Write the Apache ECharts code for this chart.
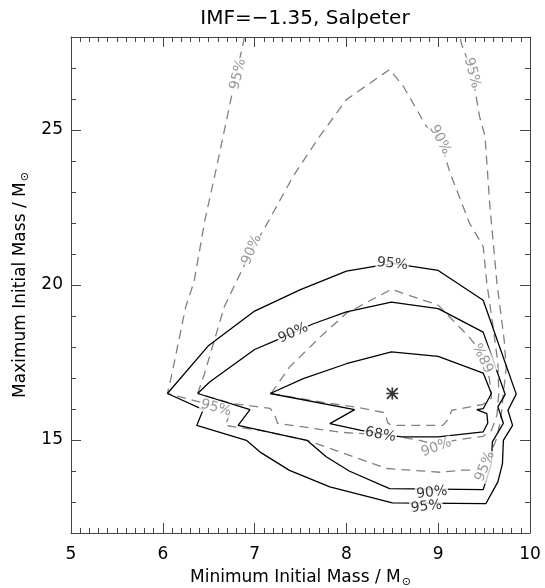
<!DOCTYPE html>
<html><head><meta charset="utf-8">
<script src="https://cdn.jsdelivr.net/npm/echarts@6/dist/echarts.min.js"></script>
<style>html,body{margin:0;padding:0;background:#fff}#c{width:545px;height:588px}</style>
</head><body><div id="c"></div>
<script>
// ---- data ----
const titleText = 'IMF=\u22121.35, Salpeter';
const xName = 'Minimum Initial Mass / M{s|\u2299}';
const yName = 'Maximum Initial Mass / M{s|\u2299}';
const xMin = 5, xMax = 10, xStep = 1;
const yMin = 12, yMax = 28, yStep = 1;
const yLabelTicks = [15, 20, 25];

// solid contours (model A)
const solid68 = [[7.17,16.5],[7.53,16.98],[8.0,17.46],[8.49,17.84],[9.0,17.7],[9.49,17.16],[9.58,16.5],[9.49,16.01],[9.42,15.98],[9.53,15.85],[9.54,15.55],[9.49,15.26],[9.0,15.1],[8.6,15.1],[8.16,15.31],[7.82,15.53],[8.09,15.98],[7.17,16.5]];
const solid90 = [[6.38,16.5],[6.51,16.87],[7.0,17.92],[7.24,18.22],[7.64,18.75],[8.0,19.13],[8.49,19.45],[9.0,19.24],[9.49,18.48],[9.73,16.47],[9.65,16.07],[9.71,15.54],[9.59,14.94],[9.58,14.24],[9.49,13.4],[8.47,13.43],[8.03,14.0],[7.78,14.46],[7.57,14.99],[6.82,15.47],[6.95,15.98],[6.38,16.5]];
const solid95 = [[6.05,16.5],[6.5,18.05],[7.0,19.16],[7.5,19.85],[8.0,20.45],[8.5,20.7],[9.0,20.47],[9.49,19.51],[9.85,16.48],[9.76,15.96],[9.81,15.47],[9.71,14.99],[9.70,14.24],[9.65,13.65],[9.52,12.95],[8.5,12.97],[7.82,13.49],[7.38,14.02],[7.06,14.61],[6.91,14.99],[6.37,15.47],[6.44,15.98],[6.05,16.5]];

// dashed contours (model B)
const dashed68 = [[7.18,16.5],[7.38,17.35],[7.71,18.31],[8.0,19.09],[8.49,19.86],[9.0,19.35],[9.34,18.31],[9.51,17.67],[9.56,16.93],[9.58,16.35],[9.49,16.15],[9.15,15.96],[9.1,15.64],[9.05,15.47],[8.49,15.47],[8.45,15.56],[8.42,15.88],[8.09,16.07],[7.82,16.18],[7.49,16.34],[7.18,16.5]];
const dashed90 = [[6.38,16.5],[6.45,17.1],[6.56,18.2],[6.67,19.3],[6.8,20.1],[6.97,21.14],[7.11,21.84],[7.42,23.51],[7.71,24.8],[8.0,25.98],[8.47,26.95],[8.62,26.41],[8.87,25.12],[9.02,24.69],[9.13,23.61],[9.34,22.0],[9.49,21.25],[9.53,20.06],[9.6,18.6],[9.65,17.5],[9.66,16.5],[9.64,15.8],[9.58,15.31],[9.49,15.12],[9.18,14.99],[8.98,14.85],[8.8,14.99],[8.47,15.15],[7.93,15.25],[7.25,15.54],[7.22,15.8],[7.17,16.02],[6.75,16.18],[6.38,16.5]];
const dashed95 = [[6.89,28.0],[6.75,26.1],[6.58,23.72],[6.46,22.11],[6.34,20.1],[6.25,19.3],[6.1,17.14],[6.05,16.5],[6.75,15.95],[6.68,15.47],[7.06,15.31],[7.57,14.99],[7.85,14.7],[8.44,14.08],[9.02,13.96],[9.27,14.03],[9.42,14.03],[9.5,14.15],[9.57,14.55],[9.63,15.0],[9.67,15.5],[9.69,15.9],[9.71,16.5],[9.74,17.3],[9.72,18.2],[9.64,20.06],[9.56,22.65],[9.51,24.8],[9.45,25.44],[9.37,26.84],[9.25,27.81],[9.24,28.0]];

// contour labels: [text, x, y]
const solidLabels = [['95%',8.5,20.68],['90%',7.42,18.45],['68%',8.37,15.17],['90%',8.93,13.3],['95%',8.87,12.85]];
const dashedLabels = [['95%',6.82,26.8],['95%',9.37,26.84],['90%',6.97,21.14],['90%',9.02,24.69],['68%',9.51,17.67],['95%',6.58,16.03],['90%',8.98,14.76],['95%',9.51,14.15]];
// label angles (style)
const solidAngles = [-6, 24, -10, 6, 6];
const dashedAngles = [77, -76, 67, -63, 115, -15, 20, 68];

const bestFit = [[8.5, 16.5]];

// ---- chart ----
const FONT = 'DejaVu Sans';
const AX = '#444';
const GRAY = '#808080';
const chart = echarts.init(document.getElementById('c'), null, {renderer: 'canvas'});

function lineSeries(data, color, type) {
  return {type:'line', data:data, xAxisIndex:0, yAxisIndex:0, symbol:'none', showSymbol:false,
    smooth:false, silent:true, animation:false, z:2,
    lineStyle:{color:color, width:1.3, type:type}};
}
function labelSeries(list, angles, color) {
  return {type:'scatter', xAxisIndex:0, yAxisIndex:0, silent:true, animation:false, z:5,
    symbol:'circle', symbolSize:1, itemStyle:{color:'rgba(0,0,0,0)'},
    data: list.map((d,i)=>({name:d[0], value:[d[1],d[2]], label:{rotate:angles[i]}})),
    label:{show:true, position:'inside', formatter:'{b}', color:color, fontFamily:FONT, fontSize:14,
      backgroundColor:'#fff', padding:[0,1,0,1]}};
}
const star = 'path://M43 0 L57 0 L57 100 L43 100 Z M0 43 L100 43 L100 57 L0 57 Z M10 0 L100 90 L90 100 L0 10 Z M90 0 L100 10 L10 100 L0 90 Z';

const axLine = {show:true, lineStyle:{color:AX, width:1}};
const tickStyle = {color:AX, width:1};
const subRich = {s:{fontFamily:FONT, fontSize:11, padding:[9,0,0,1], color:'#000'}};

chart.setOption({
  animation:false,
  backgroundColor:'#fff',
  title:{text:titleText, left:300, top:4, textAlign:'center',
    textStyle:{fontFamily:FONT, fontSize:20, fontWeight:'normal', color:'#000'}},
  grid:{left:71, right:15, top:37, bottom:55, containLabel:false, outerBoundsMode:'none'},
  xAxis:[
    {type:'value', min:xMin, max:xMax, interval:xStep, position:'bottom',
     axisLine:axLine, axisTick:{show:true, inside:true, length:10, lineStyle:tickStyle},
     minorTick:{show:true, splitNumber:10, length:5, lineStyle:tickStyle},
     splitLine:{show:false}, minorSplitLine:{show:false},
     axisLabel:{color:'#000', fontFamily:FONT, fontSize:17, margin:13},
     name:xName, nameLocation:'middle', nameGap:35,
     nameTextStyle:{color:'#000', fontFamily:FONT, fontSize:17, rich:subRich}},
    {type:'value', min:xMin, max:xMax, interval:xStep, position:'top',
     axisLine:axLine, axisTick:{show:true, inside:true, length:10, lineStyle:tickStyle},
     minorTick:{show:true, splitNumber:10, length:5, lineStyle:tickStyle},
     splitLine:{show:false}, axisLabel:{show:false}}
  ],
  yAxis:[
    {type:'value', min:yMin, max:yMax, interval:yStep, position:'left',
     axisLine:axLine, axisTick:{show:true, inside:true, length:5, lineStyle:tickStyle},
     splitLine:{show:false},
     axisLabel:{color:'#000', fontFamily:FONT, fontSize:17, margin:8, customValues:yLabelTicks},
     name:yName, nameLocation:'middle', nameGap:39,
     nameTextStyle:{color:'#000', fontFamily:FONT, fontSize:17, rich:subRich}},
    {type:'value', min:yMin, max:yMax, interval:yStep, position:'left',
     axisLine:{show:false}, axisTick:{show:true, inside:true, length:10, lineStyle:tickStyle, customValues:yLabelTicks},
     splitLine:{show:false}, axisLabel:{show:false}},
    {type:'value', min:yMin, max:yMax, interval:yStep, position:'right',
     axisLine:axLine, axisTick:{show:true, inside:true, length:5, lineStyle:tickStyle},
     splitLine:{show:false}, axisLabel:{show:false}},
    {type:'value', min:yMin, max:yMax, interval:yStep, position:'right',
     axisLine:{show:false}, axisTick:{show:true, inside:true, length:10, lineStyle:tickStyle, customValues:yLabelTicks},
     splitLine:{show:false}, axisLabel:{show:false}}
  ],
  series:[
    lineSeries(dashed95, GRAY, [9,6]),
    lineSeries(dashed90, GRAY, [9,6]),
    lineSeries(dashed68, GRAY, [9,6]),
    lineSeries(solid95, '#000', 'solid'),
    lineSeries(solid90, '#000', 'solid'),
    lineSeries(solid68, '#000', 'solid'),
    labelSeries(dashedLabels, dashedAngles, GRAY),
    labelSeries(solidLabels, solidAngles, '#000'),
    {type:'scatter', xAxisIndex:0, yAxisIndex:0, data:bestFit, symbol:star, symbolSize:12,
     itemStyle:{color:'#000'}, silent:true, z:6}
  ]
});
</script>
</body></html>
